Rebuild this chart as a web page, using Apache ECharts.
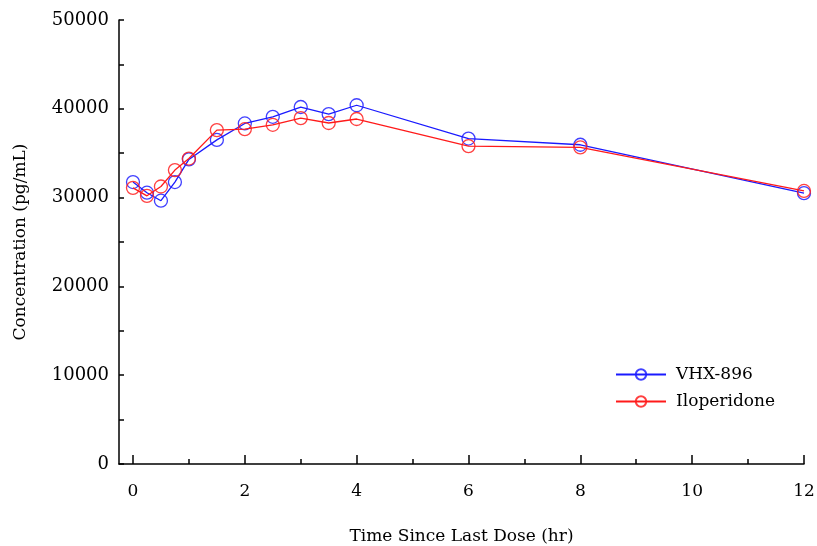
<!DOCTYPE html>
<html>
<head>
<meta charset="utf-8">
<script src="https://cdn.jsdelivr.net/npm/echarts@6/dist/echarts.min.js"></script>
<style>
	html, body { margin: 0; padding: 0; background: #fff; }
	#chart { width: 817px; height: 546px; }
</style>
</head>
<body>
<div id="chart"></div>
<script>
// time points (hr)
let times = [0, 0.25, 0.5, 0.75, 1, 1.5, 2, 2.5, 3, 3.5, 4, 6, 8, 12];
// concentration (pg/mL)
let vhx896 = [31750, 30550, 29650, 31750, 34300, 36500, 38350, 39100, 40200, 39400, 40400, 36650, 35950, 30500];
let iloperidone = [31100, 30200, 31250, 33100, 34400, 37600, 37700, 38200, 38950, 38400, 38850, 35800, 35650, 30750];
let majorTicks = [0, 2, 4, 6, 8, 10, 12];
let minorTicks = [1, 3, 5, 7, 9, 11];

let font = 'DejaVu Serif';

function pairs(xs, ys) {
	let out = [];
	for (let i = 0; i < xs.length; i++) {
		out.push([xs[i], ys[i]]);
	}
	return out;
}

let myChart = echarts.init(document.getElementById('chart'));
let option = {
	animation: false,
	backgroundColor: '#fff',
	grid: {
		left: 119,
		right: 13,
		top: 20,
		bottom: 82,
		outerBoundsMode: 'none'
	},
	legend: {
		orient: 'vertical',
		left: 615,
		top: 366,
		padding: 0,
		itemWidth: 50,
		itemHeight: 13,
		itemGap: 10,
		textStyle: {
			fontFamily: font,
			fontSize: 17,
			color: '#000',
			padding: [0, 0, 0, 5]
		},
		data: ['VHX-896', 'Iloperidone']
	},
	xAxis: [
		{
			type: 'value',
			min: -0.25,
			max: 12,
			name: 'Time Since Last Dose (hr)',
			nameLocation: 'middle',
			nameGap: 64,
			nameTextStyle: { fontFamily: font, fontSize: 17, color: '#000' },
			axisLine: { onZero: false, lineStyle: { color: '#000', width: 1.5 } },
			axisTick: {
				inside: true,
				length: 9,
				customValues: majorTicks,
				lineStyle: { color: '#000', width: 1.5 }
			},
			axisLabel: {
				customValues: majorTicks,
				margin: 19,
				fontFamily: font,
				fontSize: 17,
				color: '#000'
			},
			splitLine: { show: false }
		},
		{
			type: 'value',
			min: -0.25,
			max: 12,
			position: 'bottom',
			axisLine: { show: false, onZero: false },
			axisTick: {
				inside: true,
				length: 5,
				customValues: minorTicks,
				lineStyle: { color: '#000', width: 1.5 }
			},
			axisLabel: { show: false },
			splitLine: { show: false }
		}
	],
	yAxis: {
		type: 'value',
		min: 0,
		max: 50000,
		interval: 5000,
		name: 'Concentration (pg/mL)',
		nameLocation: 'middle',
		nameGap: 90,
		nameTextStyle: { fontFamily: font, fontSize: 17, color: '#000' },
		axisLine: { show: true, onZero: false, lineStyle: { color: '#000', width: 1.5 } },
		axisTick: {
			show: true,
			inside: true,
			length: 5,
			lineStyle: { color: '#000', width: 1.5 }
		},
		axisLabel: {
			margin: 10,
			fontFamily: font,
			fontSize: 18,
			color: '#000',
			formatter: function(v) {
				return v % 10000 === 0 ? String(v) : '';
			}
		},
		splitLine: { show: false }
	},
	series: [
		{
			name: 'VHX-896',
			type: 'line',
			data: pairs(times, vhx896),
			symbol: 'circle',
			symbolSize: 13,
			color: '#1a1aff',
			lineStyle: { color: '#1a1aff', width: 1.3 },
			itemStyle: { color: 'rgba(0,0,0,0)', borderColor: 'rgba(30,30,255,0.85)', borderWidth: 1.3 },
			z: 3
		},
		{
			name: 'Iloperidone',
			type: 'line',
			data: pairs(times, iloperidone),
			symbol: 'circle',
			symbolSize: 13,
			color: '#ff1a1a',
			lineStyle: { color: '#ff1a1a', width: 1.3 },
			itemStyle: { color: 'rgba(0,0,0,0)', borderColor: 'rgba(255,30,30,0.85)', borderWidth: 1.3 },
			z: 4
		}
	]
};
myChart.setOption(option);
</script>
</body>
</html>
